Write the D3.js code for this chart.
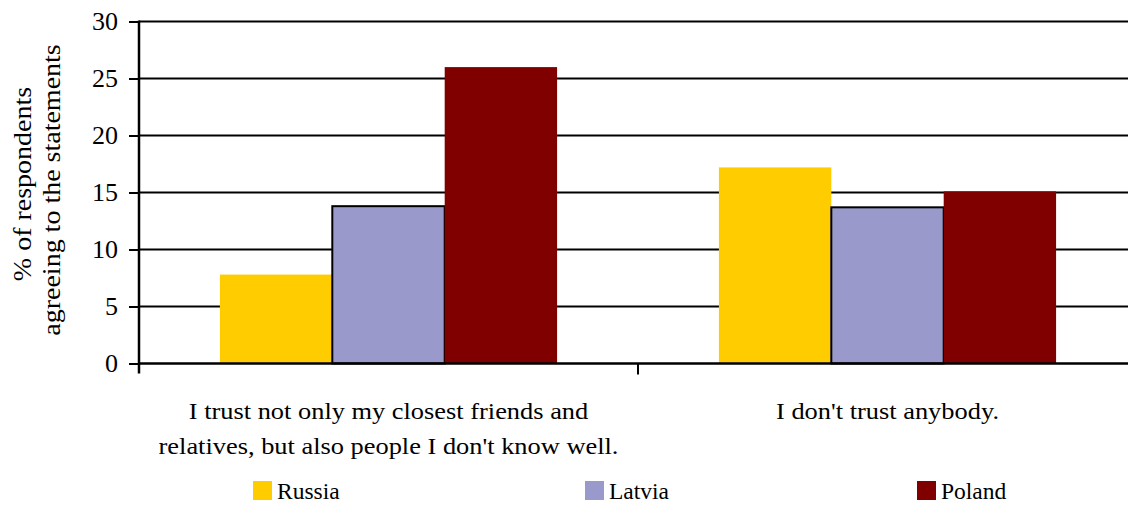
<!DOCTYPE html>
<html><head><meta charset="utf-8">
<script src="https://cdn.jsdelivr.net/npm/d3@7/dist/d3.min.js"></script>
<style>body{margin:0;background:#fff}svg{display:block;font-family:"Liberation Serif","Times New Roman",serif}</style>
</head><body><svg id="c" width="1128" height="505"></svg>
<script>
const categories = [
  ["I trust not only my closest friends and", "relatives, but also people I don't know well."],
  ["I don't trust anybody."]
];
const seriesNames = ["Russia", "Latvia", "Poland"];
const seriesColors = ["#FFCC00", "#9999CC", "#800000"];
const russia = [7.8, 17.2];
const latvia = [13.8, 13.7];
const poland = [26.0, 15.1];
const yTicks = [0, 5, 10, 15, 20, 25, 30];
const yTitle = ["% of respondents", "agreeing to the statements"];

const values = [russia, latvia, poland];
const svg = d3.select("#c");
const FONT = "Liberation Serif";
const L = 139, R = 1137, T = 21.5, B = 363.5;
const x0 = d3.scaleBand().domain(d3.range(categories.length)).range([L, R]).paddingInner(0).paddingOuter(0);
const x1 = d3.scaleBand().domain(d3.range(seriesNames.length)).range([0, x0.bandwidth()]).paddingInner(0).paddingOuter(0.72);
const y = d3.scaleLinear().domain([0, 30]).range([B, T]);

// gridlines
svg.append("g").selectAll("line").data(yTicks.filter(d => d > 0)).join("line")
  .attr("x1", L).attr("x2", R).attr("y1", d => y(d)).attr("y2", d => y(d))
  .attr("stroke", "#000").attr("stroke-width", 2);

// bars
const g = svg.append("g");
categories.forEach((c, ci) => {
  values.forEach((s, si) => {
    const bx = x0(ci) + x1(si);
    g.append("rect").attr("x", bx).attr("y", y(s[ci]))
      .attr("width", x1.bandwidth()).attr("height", B - y(s[ci]))
      .attr("fill", seriesColors[si])
      .attr("stroke", si === 1 ? "#000" : "none").attr("stroke-width", 2);
  });
});

// y axis
const ya = svg.append("g").attr("transform", `translate(${L},0)`)
  .call(d3.axisLeft(y).tickValues(yTicks).tickSize(10).tickPadding(11));
ya.select(".domain").remove();
ya.selectAll("line").attr("stroke", "#000").attr("stroke-width", 2);
ya.selectAll("text").attr("font-size", 26).attr("font-family", FONT).attr("fill", "#000");
svg.append("line").attr("x1", L).attr("x2", L).attr("y1", T - 1).attr("y2", B + 10).attr("stroke", "#000").attr("stroke-width", 2.5);

// x axis
svg.append("line").attr("x1", L).attr("x2", R).attr("y1", B).attr("y2", B).attr("stroke", "#000").attr("stroke-width", 2.5);
svg.append("g").selectAll("line").data(d3.range(1, categories.length)).join("line")
  .attr("x1", d => x0(d)).attr("x2", d => x0(d)).attr("y1", B).attr("y2", B + 11)
  .attr("stroke", "#000").attr("stroke-width", 2);

// category labels
categories.forEach((lines, ci) => {
  lines.forEach((ln, li) => {
    svg.append("text")
      .attr("transform", `translate(${x0(ci) + x0.bandwidth() / 2},${419 + li * 35}) scale(1.1,1)`)
      .attr("text-anchor", "middle").attr("font-size", 24).attr("font-family", FONT).attr("fill", "#000")
      .text(ln);
  });
});

// y title
const yTitleX = [31, 60], yTitleC = [184, 190];
yTitle.forEach((ln, i) => {
  svg.append("text")
    .attr("transform", `translate(${yTitleX[i]},${yTitleC[i]}) rotate(-90) scale(1,0.9)`)
    .attr("text-anchor", "middle").attr("font-size", 28).attr("font-family", FONT).attr("fill", "#000")
    .text(ln);
});

// legend
const legX = [253, 585, 917];
seriesNames.forEach((n, i) => {
  svg.append("rect").attr("x", legX[i]).attr("y", 481).attr("width", 19).attr("height", 19).attr("fill", seriesColors[i]);
  svg.append("text").attr("x", legX[i] + 24).attr("y", 499).attr("font-size", 23.5).attr("font-family", FONT).attr("fill", "#000").text(n);
});
</script></body></html>
